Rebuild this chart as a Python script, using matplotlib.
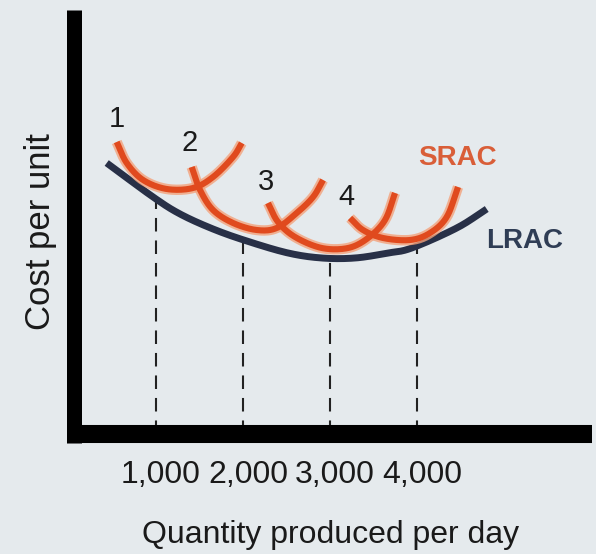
import numpy as np
import matplotlib
matplotlib.use("Agg")
import matplotlib.pyplot as plt
import matplotlib.transforms as mtransforms

plt.rcParams['font.family'] = ['Liberation Sans', 'DejaVu Sans']

# ---- data (quantity per day, cost per unit in arbitrary units) ----
lrac_x = [433, 966, 1276, 1655, 2043, 2517, 2905, 3287, 3667, 3939, 4456, 4801]
lrac_y = [27.1, 23.7, 22.0, 20.5, 19.3, 18.1, 17.6, 17.6, 18.1, 18.6, 20.6, 22.5]

srac1_x = [548, 663, 851, 1123, 1425, 1655, 1885, 1985]
srac1_y = [29.2, 27.1, 25.4, 24.5, 24.6, 25.7, 27.7, 29.1]
srac2_x = [1410, 1506, 1655, 1885, 2157, 2387, 2617, 2805, 2920]
srac2_y = [26.7, 24.4, 22.4, 21.1, 20.4, 20.6, 22.1, 23.7, 25.4]
srac3_x = [2287, 2402, 2598, 2905, 3207, 3437, 3632, 3747]
srac3_y = [23.1, 21.2, 19.7, 18.6, 18.6, 19.6, 21.4, 24.1]
srac4_x = [3230, 3379, 3609, 3920, 4149, 4341, 4471]
srac4_y = [21.6, 20.4, 19.6, 19.4, 20.1, 21.7, 24.7]

plant_labels = ["1", "2", "3", "4"]
plant_label_x = [552, 1391, 2264, 3184]
plant_label_y = [31.5, 29.1, 25.2, 23.7]

tick_values = [1000, 2000, 3000, 4000]
tick_labels = ["1,000", "2,000", "3,000", "4,000"]

x_label = "Quantity produced per day"
y_label = "Cost per unit"


def smooth(xs, ys, n=24):
    """Catmull-Rom rendering through the read points."""
    p = np.column_stack([xs, ys]).astype(float)
    p = np.vstack([2 * p[0] - p[1], p, 2 * p[-1] - p[-2]])
    out = []
    t = np.linspace(0, 1, n, endpoint=False)[:, None]
    for i in range(1, len(p) - 2):
        p0, p1, p2, p3 = p[i - 1], p[i], p[i + 1], p[i + 2]
        seg = 0.5 * ((2 * p1) + (-p0 + p2) * t + (2 * p0 - 5 * p1 + 4 * p2 - p3) * t ** 2
                     + (-p0 + 3 * p1 - 3 * p2 + p3) * t ** 3)
        out.append(seg)
    out.append(p[-2][None, :])
    out = np.vstack(out)
    return out[:, 0], out[:, 1]


BG = "#E5EAED"
ORANGE = "#E04A1E"
GLOW = "#F3A27C"
NAVY = "#283047"

fig = plt.figure(figsize=(5.96, 5.54), dpi=100, facecolor=BG)
ax = fig.add_axes([74 / 596, 120 / 554, 522 / 596, 424 / 554])
ax.set_facecolor(BG)
ax.set_xlim(57, 6057)
ax.set_ylim(0, 42.4)
for s in ax.spines.values():
    s.set_visible(False)
ax.set_yticks([])
ax.set_xticks(tick_values, tick_labels, fontsize=23, color="#1a1a1a")
ax.tick_params(axis="x", length=0, pad=19)
# labels sit a little to the right of the guides in the print
shift = mtransforms.ScaledTranslation(5 / 100, 0, fig.dpi_scale_trans)
for lab in ax.get_xticklabels():
    lab.set_transform(lab.get_transform() + shift)

# axis lines (thick, as in the print)
ax.plot([57, 57], [42.4, -0.9], color="black", lw=10.8, solid_capstyle="butt", clip_on=False, zorder=5)
ax.plot([-23, 6011], [0, 0], color="black", lw=13, solid_capstyle="butt", clip_on=False, zorder=5)

# dashed guides from the LRAC down to the axis
for q in tick_values:
    top = np.interp(q, lrac_x, lrac_y)
    ax.plot([q, q], [0, top], color="#222222", lw=1.5, linestyle=(0, (6.5, 4.3)), zorder=1)

# LRAC
lx, ly = smooth(lrac_x, lrac_y)
ax.plot(lx, ly, color=NAVY, lw=5, solid_capstyle="butt", zorder=2)

# SRAC curves with a soft glow
for xs, ys in [(srac1_x, srac1_y), (srac2_x, srac2_y), (srac3_x, srac3_y), (srac4_x, srac4_y)]:
    sx, sy = smooth(xs, ys)
    ax.plot(sx, sy, color=GLOW, lw=7.5, alpha=0.8, solid_capstyle="butt", zorder=3)
    ax.plot(sx, sy, color=ORANGE, lw=4.4, solid_capstyle="butt", zorder=4)

for lab, x, y in zip(plant_labels, plant_label_x, plant_label_y):
    ax.text(x, y, lab, fontsize=21, color="#1a1a1a", ha="center", va="center", zorder=6)

ax.text(4460, 27.6, "SRAC", fontsize=20, fontweight="bold", color="#D95E38", ha="center", va="center")
ax.text(5241, 19.3, "LRAC", fontsize=20, fontweight="bold", color="#2F3D55", ha="center", va="center")

fig.text(331 / 596, 11 / 554, x_label, fontsize=23, color="#1a1a1a", ha="center", va="baseline")
fig.text(41 / 596, 1 - 232 / 554, y_label, fontsize=25, color="#1a1a1a", rotation=90,
         ha="center", va="center")

fig.savefig("out.png", dpi=100, facecolor=BG)
